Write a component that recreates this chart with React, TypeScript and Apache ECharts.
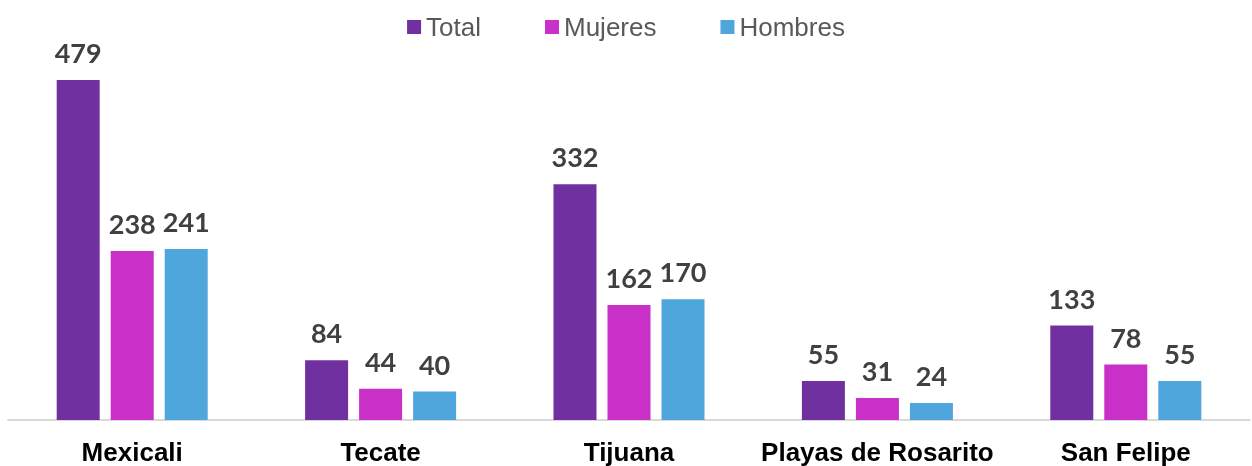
import React, { useEffect, useRef } from "react";
import * as echarts from "echarts";

const categories = ["Mexicali", "Tecate", "Tijuana", "Playas de Rosarito", "San Felipe"];
const seriesNames = ["Total", "Mujeres", "Hombres"];
const totalValues = [479, 84, 332, 55, 133];
const mujeresValues = [238, 44, 162, 31, 78];
const hombresValues = [241, 40, 170, 24, 55];
const colors = ["#7030A0", "#C830C8", "#4EA6DC"];

export default function App() {
  const ref = useRef<HTMLDivElement>(null);
  useEffect(() => {
    if (!ref.current) return;
    const chart = echarts.init(ref.current, undefined, { renderer: "svg" });
    const dataSets = [totalValues, mujeresValues, hombresValues];
    chart.setOption({
      animation: false,
      legend: {
        data: seriesNames,
        top: 9,
        left: "center",
        icon: "rect",
        itemWidth: 14,
        itemHeight: 14,
        itemGap: 64,
        textStyle: { fontFamily: "Liberation Sans, Arial", fontSize: 26, color: "#595959" },
      },
      grid: { left: 8, right: 2, top: 65, bottom: 46, containLabel: false },
      xAxis: {
        type: "category",
        data: categories,
        axisTick: { show: false },
        axisLine: { lineStyle: { color: "#D9D9D9", width: 2 } },
        axisLabel: {
          fontFamily: "Liberation Sans, Arial",
          fontWeight: "bold",
          fontSize: 26,
          color: "#000000",
          margin: 19,
          interval: 0,
        },
      },
      yAxis: { type: "value", min: 0, max: 500, show: false, splitLine: { show: false } },
      series: seriesNames.map((name, i) => ({
        name,
        type: "bar",
        data: dataSets[i],
        barWidth: 43,
        barGap: "25.6%",
        itemStyle: { color: colors[i] },
        label: {
          show: true,
          position: "top",
          distance: 14,
          fontFamily: "Lato, Open Sans",
          fontWeight: "bold",
          fontSize: 27,
          color: "#404040",
        },
      })),
    });
    return () => chart.dispose();
  }, []);
  return <div ref={ref} style={{ position: "fixed", left: 0, top: 0, width: 1252, height: 466 }} />;
}
